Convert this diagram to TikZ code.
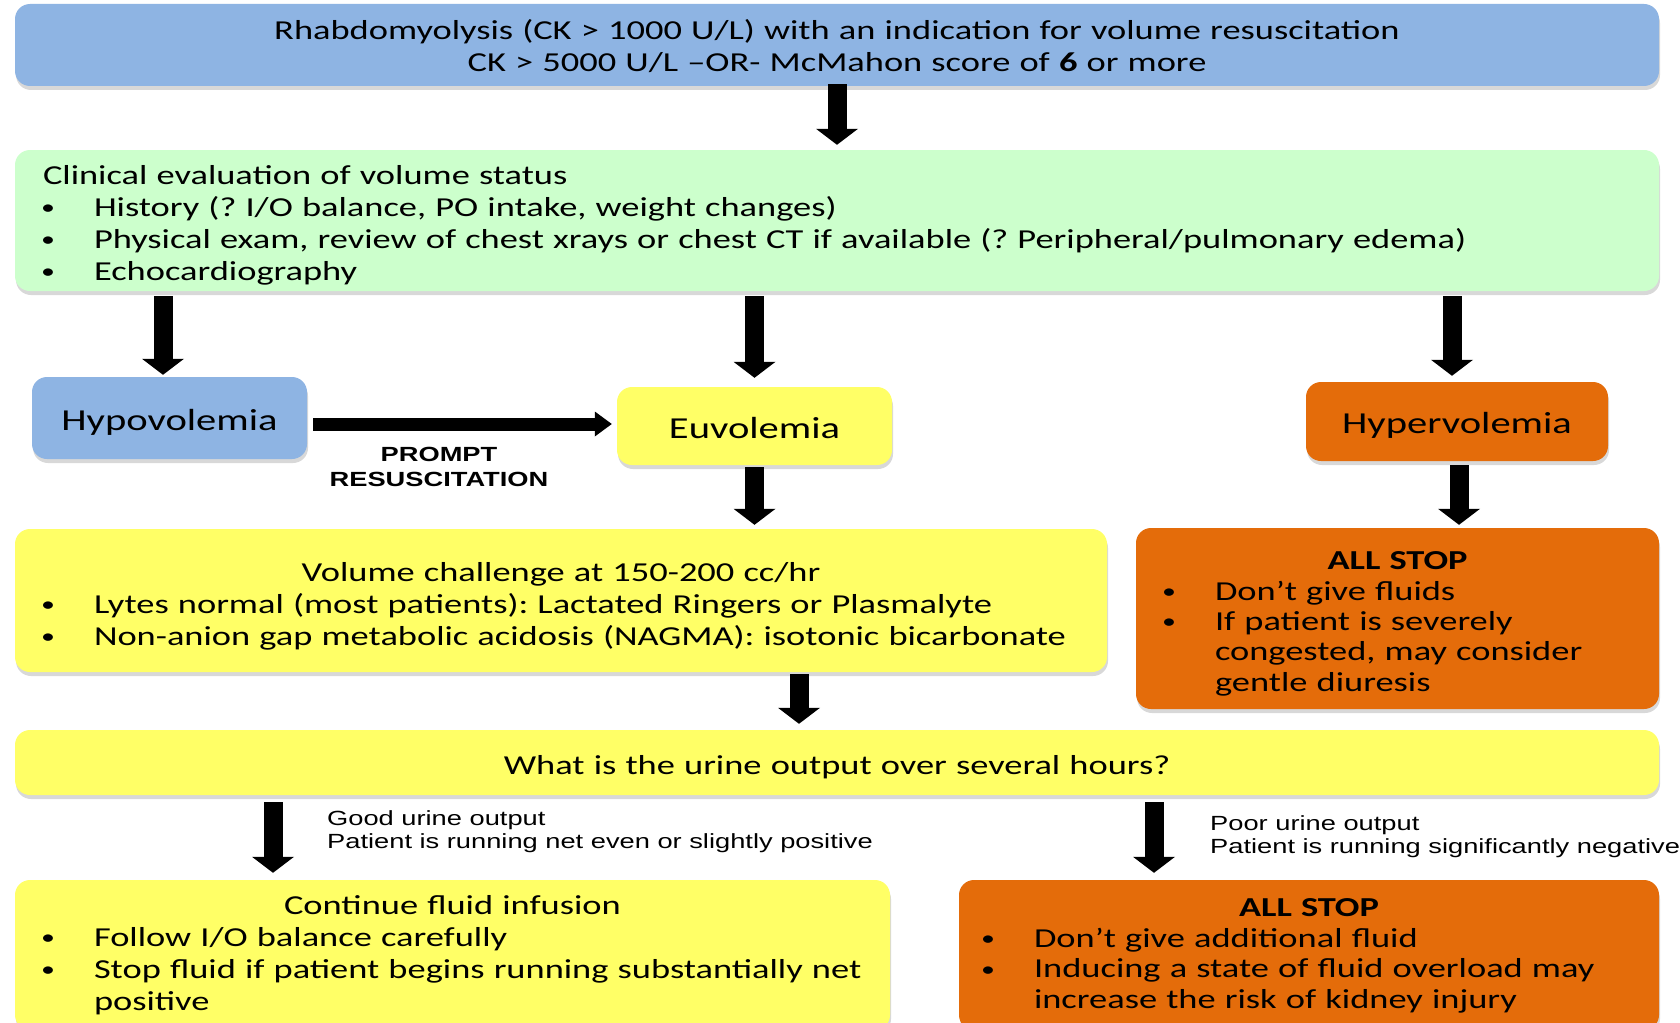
\documentclass[tikz,border=0pt]{standalone}
\usepackage{fontspec}
\setmainfont{Carlito}[FakeStretch=1.33]
\newfontfamily\lblfont{Liberation Sans}[FakeStretch=1.33]
\usetikzlibrary{arrows.meta,positioning,shadows}
\frenchspacing

\definecolor{hypoblue}{RGB}{142,180,227}
\definecolor{evalgreen}{RGB}{204,255,204}
\definecolor{euvoyellow}{RGB}{255,255,102}
\definecolor{hyperorange}{RGB}{228,108,10}

\newcommand{\bul}[1]{\makebox[51pt][l]{\hspace*{-2pt}\raisebox{1.5pt}{\fontsize{21}{21}\selectfont\textbullet}}\mbox{#1}}
\newcommand{\contline}[1]{\hspace*{51pt}\mbox{#1}}
\newcommand{\boxtitle}[1]{\makebox[\linewidth]{#1}}

\tikzset{
flowbox/.style={
  rectangle,
  rounded corners=15pt,
  inner xsep=28pt,
  inner ysep=0pt,
  align=left,
  font=\fontsize{27.4}{32}\selectfont,
  drop shadow={shadow xshift=1pt,shadow yshift=-4pt,opacity=0.25,fill=black!60}
  },
padtop/.style={execute at begin node={\rule{0pt}{#1}}},
bluebox/.style={flowbox,fill=hypoblue},
greenbox/.style={flowbox,fill=evalgreen},
yellowbox/.style={flowbox,fill=euvoyellow},
orangebox/.style={flowbox,fill=hyperorange},
statebox/.style={font=\fontsize{30.5}{36}\selectfont,align=center,
  text height=24pt,text depth=0pt},
downarr/.style={line width=19pt,
  -{Triangle[width=42pt,length=16pt,line width=0pt]}},
rightarr/.style={line width=13pt,
  -{Triangle[width=25pt,length=17pt,line width=0pt]}},
armlabel/.style={font=\lblfont\fontsize{20.5}{23}\selectfont,inner sep=0pt,align=left}
}

\begin{document}
\begin{tikzpicture}[x=1pt,y=-1pt]
\useasboundingbox (0,0) rectangle (1680,1022);
\fill[white] (0,0) rectangle (1680,1022);
\clip (0,0) rectangle (1680,1022);

% boxes
\node[bluebox,padtop=22.5pt,align=center,text width=1588pt,minimum height=82pt] (rhabdo) at (837,45)
  {Rhabdomyolysis (CK > 1000 U/L) with an indication for volume resuscitation\\
   CK > 5000 U/L –OR- McMahon score of {\bfseries 6} or more};

\node[greenbox,padtop=28pt,text width=1588pt,minimum height=141pt] (evalbox) at (837,220.5)
  {Clinical evaluation of volume status\\
   \bul{History (? I/O balance, PO intake, weight changes)}\\
   \bul{Physical exam, review of chest xrays or chest CT if available (? Peripheral/pulmonary edema)}\\
   \bul{Echocardiography}};

\node[bluebox,statebox,minimum width=275pt,minimum height=82pt] (hypo) at (169.5,418) {Hypovolemia};
\node[yellowbox,statebox,minimum width=275pt,minimum height=78pt] (euvo) at (754.5,426) {Euvolemia};
\node[orangebox,statebox,minimum width=302pt,minimum height=79pt] (hyper) at (1457,421.5) {Hypervolemia};

\node[yellowbox,padtop=30pt,text width=1036pt,minimum height=143pt] (volume) at (561,600.5)
  {\boxtitle{Volume challenge at 150-200 cc/hr}\\
   \bul{Lytes normal (most patients): Lactated Ringers or Plasmalyte}\\
   \bul{Non-anion gap metabolic acidosis (NAGMA): isotonic bicarbonate}};

\node[orangebox,padtop=28.5pt,text width=467pt,minimum height=181pt,font=\fontsize{27.4}{30.3}\selectfont] (stopone) at (1397.5,618.5)
  {\boxtitle{\bfseries ALL STOP}\\
   \bul{Don’t give fluids}\\
   \bul{If patient is severely}\\
   \contline{congested, may consider}\\
   \contline{gentle diuresis}};

\node[yellowbox,padtop=28pt,align=center,text width=1588pt,minimum height=65pt] (urine) at (837,762.5)
  {What is the urine output over several hours?};

\node[yellowbox,text width=819pt,minimum height=150pt] (contbox) at (452.5,955)
  {\boxtitle{Continue fluid infusion}\\
   \bul{Follow I/O balance carefully}\\
   \bul{Stop fluid if patient begins running substantially net}\\
   \contline{positive}};

\node[orangebox,padtop=19.6pt,inner xsep=24pt,text width=652pt,minimum height=150pt,font=\fontsize{27.4}{30.7}\selectfont] (stoptwo) at (1309,955)
  {\boxtitle{\bfseries ALL STOP}\\
   \bul{Don’t give additional fluid}\\
   \bul{Inducing a state of fluid overload may}\\
   \contline{increase the risk of kidney injury}};

% arrows
\coordinate (hypoin) at (163,0);
\coordinate (hyperin) at (1452,0);
\coordinate (hyperout) at (1459,0);
\coordinate (promptrow) at (0,424);
\coordinate (volout) at (799,0);
\coordinate (goodout) at (273,0);
\coordinate (poorout) at (1154,0);

\draw[downarr,shorten <=-2pt,shorten >=5pt] (rhabdo.south) -- (evalbox.north);
\draw[downarr,shorten <=5pt,shorten >=2pt] (evalbox.south -| hypoin) -- (hypo.north -| hypoin);
\draw[downarr,shorten <=5pt,shorten >=9pt] (evalbox.south -| euvo.north) -- (euvo.north);
\draw[downarr,shorten <=5pt,shorten >=6pt] (evalbox.south -| hyperin) -- (hyper.north -| hyperin);
\draw[rightarr,shorten <=6pt,shorten >=5pt] (hypo.east |- promptrow) -- (euvo.west |- promptrow);
\draw[downarr,shorten <=2pt,shorten >=4pt] (euvo.south) -- (volume.north -| euvo.south);
\draw[downarr,shorten <=4pt,shorten >=3pt] (hyper.south -| hyperout) -- (stopone.north -| hyperout);
\draw[downarr,shorten <=2pt,shorten >=6pt] (volume.south -| volout) -- (urine.north -| volout);
\draw[downarr,shorten <=7pt,shorten >=7pt] (urine.south -| goodout) -- (contbox.north -| goodout);
\draw[downarr,shorten <=7pt,shorten >=7pt] (urine.south -| poorout) -- (stoptwo.north -| poorout);

% labels
\node[armlabel,align=center,font=\lblfont\fontsize{20.5}{25}\selectfont\bfseries] (prompt) at (439,467)
  {PROMPT\\RESUSCITATION};
\node[armlabel,anchor=west] (goodlbl) at (327,832)
  {Good urine output\\Patient is running net even or slightly positive};
\node[armlabel,anchor=west] (poorlbl) at (1210,837)
  {Poor urine output\\Patient is running significantly negative};
\end{tikzpicture}
\end{document}
